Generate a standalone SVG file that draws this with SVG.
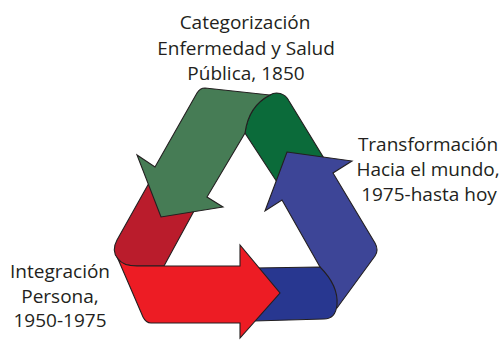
<svg xmlns="http://www.w3.org/2000/svg" width="501" height="342" viewBox="0 0 501 342">
<style>
.s{stroke:#231F20;stroke-width:1.1;stroke-linejoin:miter;stroke-miterlimit:10}
.t{font-family:"Open Sans","Liberation Sans",sans-serif;font-size:19px;fill:#231F20;text-anchor:middle}
</style>
<rect width="501" height="342" fill="#FFFFFF"/>
<g id="connectors">
<path id="fold-green" class="s" fill="#0B6B3A" d="M245,133 Q248.5,106 270,95 C276,91 285,93 289,101 L325,160 L300,166 L277,182 Z"/>
<path id="fold-red" class="s" fill="#BA1C2C" d="M149,183 L117,240 Q111,251 118,259 Q123,266 137,266 L164,266 L194,211 L170,200 Z"/>
<path id="arrow-blue" class="s" fill="#3D4597" d="M287,152 L352,161 L333,173 L375,243 Q379,250 375,256 L337,308 L300,300 L320,267 L282,200 L265,211 Z"/>
<path id="fold-blue" class="s" fill="#283790" d="M255,268 L320,267 C332,279 338,293 337,305 C336,314 332,319 324,319 L254,321 Z"/>
<path id="arrow-red" class="s" fill="#ED1C24" d="M118,259 Q123,266 137,266 L240,266 L240,245 L280,293 L240,338 L240,323 L151,323 Q146,323 143,317 Z"/>
<path id="arrow-green" class="s" fill="#467C55" d="M205,88 L270,95 Q248.5,106 245,133 L207,197 L223,207 L161,217 L137,155 L155,167 L197,93 Q200,88 205,88 Z"/>
</g>
<g id="node-top">
<text class="t" x="245" y="29">Categorización</text>
<text class="t" x="246" y="55">Enfermedad y Salud</text>
<text class="t" x="246" y="80">Pública, 1850</text>
</g>
<g id="node-right">
<text class="t" x="428" y="151">Transformación</text>
<text class="t" x="428" y="176">Hacia el mundo,</text>
<text class="t" x="429" y="201">1975-hasta hoy</text>
</g>
<g id="node-left">
<text class="t" x="60" y="278">Integración</text>
<text class="t" x="60" y="303">Persona,</text>
<text class="t" x="60" y="327">1950-1975</text>
</g>
</svg>
